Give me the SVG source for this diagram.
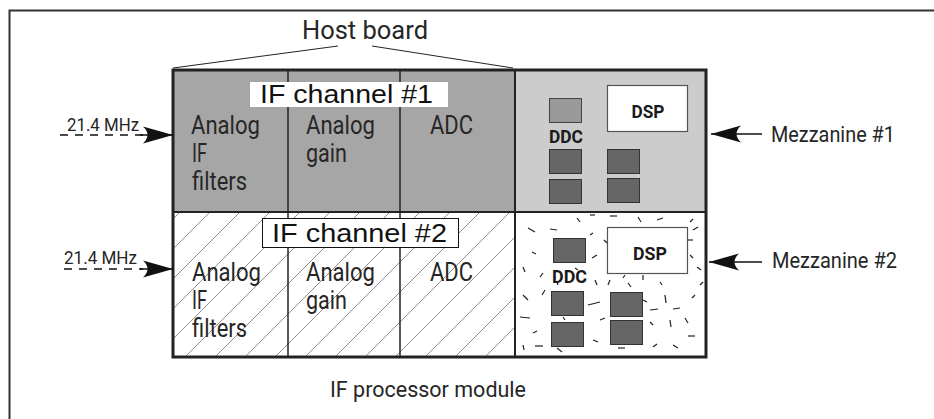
<svg xmlns="http://www.w3.org/2000/svg" width="934" height="419" viewBox="0 0 934 419">
  <defs>
    <style>
      .lbl { font-family: Roboto, "Liberation Sans", sans-serif; fill: #262626; }
      .cell { font-size: 25px; }
      .freq { font-size: 18px; }
      .side { font-size: 22px; }
      .chan { font-family: "Liberation Sans", Arial, sans-serif; font-size: 25px; fill: #111; }
      .bold { font-family: Roboto, "Liberation Sans", sans-serif; font-weight: bold; fill: #1a1a1a; }
      .div { stroke: #222; stroke-width: 1.5; fill: none; }
      .chip { fill: #666; stroke: #333; stroke-width: 1; }
      .chip-lt { fill: #999; stroke: #444; stroke-width: 1; }
      .dsp { fill: #fff; stroke: #555; stroke-width: 1.2; }
      .wire { stroke: #111; stroke-width: 1.3; fill: none; }
      .dash { stroke: #111; stroke-width: 1.3; fill: none; stroke-dasharray: 8 7; }
      .speck line { stroke: #222; stroke-width: 1.2; }
    </style>
    <pattern id="hatch" patternUnits="userSpaceOnUse" width="30" height="30" x="2" y="0">
      <path d="M-1,31 L31,-1 M-1,1 L1,-1 M29,31 L31,29" stroke="#968b8b" stroke-width="1" fill="none"/>
    </pattern>
    <marker id="stealth" markerUnits="userSpaceOnUse" markerWidth="32" markerHeight="20" viewBox="0 -10 32 20" refX="30" refY="0" orient="auto">
      <path d="M0,-8.5 L30,0 L0,8.5 Q9,0 0,-8.5 Z" fill="#111"/>
    </marker>
  </defs>

  <rect width="934" height="419" fill="#fff"/>

  <!-- frame around the module -->
  <path d="M9.5,419 V10.5 H934" fill="none" stroke="#333" stroke-width="2"/>

  <!-- host board bracket -->
  <g id="host-board">
    <text class="lbl" x="302" y="39" font-size="25" textLength="126" lengthAdjust="spacingAndGlyphs">Host board</text>
    <path d="M173,68 L338,46 M372,46 L513,68" stroke="#222" stroke-width="1" fill="none"/>
  </g>

  <!-- IF channel 1 -->
  <g id="if-channel-1">
    <rect x="173" y="70" width="342" height="142" fill="#a6a6a6"/>
    <line class="div" x1="288" y1="70" x2="288" y2="212"/>
    <line class="div" x1="400" y1="70" x2="400" y2="212"/>
    <rect x="250" y="82" width="198" height="25" fill="#fff"/>
    <text class="chan" x="260" y="103" textLength="173" lengthAdjust="spacingAndGlyphs">IF channel #1</text>
    <text class="lbl cell" x="191" y="134" textLength="69" lengthAdjust="spacingAndGlyphs">Analog</text>
    <text class="lbl cell" x="192" y="162" textLength="15" lengthAdjust="spacingAndGlyphs">IF</text>
    <text class="lbl cell" x="192" y="190" textLength="55" lengthAdjust="spacingAndGlyphs">filters</text>
    <text class="lbl cell" x="306" y="134" textLength="69" lengthAdjust="spacingAndGlyphs">Analog</text>
    <text class="lbl cell" x="306" y="162" textLength="41" lengthAdjust="spacingAndGlyphs">gain</text>
    <text class="lbl cell" x="430" y="134" textLength="43" lengthAdjust="spacingAndGlyphs">ADC</text>
  </g>

  <!-- IF channel 2 -->
  <g id="if-channel-2">
    <rect x="173" y="212" width="342" height="145" fill="#fff"/>
    <rect x="173" y="212" width="342" height="145" fill="url(#hatch)"/>
    <line class="div" x1="288" y1="212" x2="288" y2="357"/>
    <line class="div" x1="400" y1="212" x2="400" y2="357"/>
    <rect x="262.5" y="218.5" width="196" height="29" fill="#fff" stroke="#111" stroke-width="1"/>
    <text class="chan" x="272" y="242" textLength="175" lengthAdjust="spacingAndGlyphs">IF channel #2</text>
    <text class="lbl cell" x="192" y="281" textLength="69" lengthAdjust="spacingAndGlyphs">Analog</text>
    <text class="lbl cell" x="192" y="309" textLength="15" lengthAdjust="spacingAndGlyphs">IF</text>
    <text class="lbl cell" x="192" y="337" textLength="55" lengthAdjust="spacingAndGlyphs">filters</text>
    <text class="lbl cell" x="306" y="281" textLength="69" lengthAdjust="spacingAndGlyphs">Analog</text>
    <text class="lbl cell" x="306" y="309" textLength="41" lengthAdjust="spacingAndGlyphs">gain</text>
    <text class="lbl cell" x="430" y="281" textLength="43" lengthAdjust="spacingAndGlyphs">ADC</text>
  </g>

  <!-- Mezzanine 1 -->
  <g id="mezzanine-1">
    <rect x="515" y="70" width="191" height="142" fill="#ccc"/>
    <rect class="chip-lt" x="549.5" y="98.5" width="32" height="24"/>
    <rect class="dsp" x="607.5" y="85.5" width="80" height="46"/>
    <text class="bold" x="648" y="118" font-size="18" text-anchor="middle" textLength="33" lengthAdjust="spacingAndGlyphs">DSP</text>
    <text class="bold" x="549" y="143" font-size="19" textLength="34" lengthAdjust="spacingAndGlyphs">DDC</text>
    <rect class="chip" x="549.5" y="149.5" width="32" height="24"/>
    <rect class="chip" x="549.5" y="179.5" width="32" height="24"/>
    <rect class="chip" x="607.5" y="149.5" width="32" height="24"/>
    <rect class="chip" x="607.5" y="178.5" width="32" height="24"/>
  </g>

  <!-- Mezzanine 2 -->
  <g id="mezzanine-2">
    <rect x="515" y="212" width="191" height="145" fill="#fff"/>
    <g class="speck">
      <line x1="528" y1="228" x2="535" y2="232"/>
      <line x1="550" y1="229" x2="557" y2="230"/>
      <line x1="577" y1="218" x2="580" y2="222"/>
      <line x1="590" y1="215" x2="595" y2="215"/>
      <line x1="610" y1="216" x2="617" y2="216"/>
      <line x1="638" y1="217" x2="641" y2="222"/>
      <line x1="657" y1="220" x2="663" y2="218"/>
      <line x1="690" y1="222" x2="693" y2="219"/>
      <line x1="693" y1="230" x2="698" y2="227"/>
      <line x1="532" y1="252" x2="536" y2="254"/>
      <line x1="590" y1="235" x2="593" y2="233"/>
      <line x1="592" y1="258" x2="597" y2="255"/>
      <line x1="604" y1="240" x2="607" y2="243"/>
      <line x1="688" y1="240" x2="693" y2="240"/>
      <line x1="690" y1="255" x2="693" y2="258"/>
      <line x1="697" y1="267" x2="701" y2="270"/>
      <line x1="523" y1="267" x2="525" y2="272"/>
      <line x1="540" y1="277" x2="543" y2="273"/>
      <line x1="575" y1="268" x2="578" y2="270"/>
      <line x1="595" y1="280" x2="597" y2="285"/>
      <line x1="610" y1="280" x2="608" y2="285"/>
      <line x1="625" y1="275" x2="623" y2="278"/>
      <line x1="628" y1="283" x2="631" y2="287"/>
      <line x1="643" y1="275" x2="643" y2="280"/>
      <line x1="660" y1="282" x2="662" y2="285"/>
      <line x1="542" y1="295" x2="545" y2="290"/>
      <line x1="557" y1="282" x2="558" y2="285"/>
      <line x1="523" y1="295" x2="528" y2="300"/>
      <line x1="588" y1="305" x2="600" y2="302"/>
      <line x1="643" y1="300" x2="647" y2="302"/>
      <line x1="650" y1="310" x2="658" y2="309"/>
      <line x1="665" y1="295" x2="666" y2="303"/>
      <line x1="673" y1="309" x2="680" y2="308"/>
      <line x1="692" y1="298" x2="695" y2="295"/>
      <line x1="700" y1="285" x2="703" y2="282"/>
      <line x1="520" y1="317" x2="530" y2="318"/>
      <line x1="563" y1="317" x2="565" y2="320"/>
      <line x1="600" y1="320" x2="605" y2="318"/>
      <line x1="650" y1="322" x2="653" y2="325"/>
      <line x1="670" y1="320" x2="671" y2="327"/>
      <line x1="685" y1="318" x2="688" y2="323"/>
      <line x1="533" y1="333" x2="537" y2="331"/>
      <line x1="523" y1="345" x2="524" y2="350"/>
      <line x1="535" y1="346" x2="543" y2="346"/>
      <line x1="557" y1="348" x2="562" y2="352"/>
      <line x1="593" y1="340" x2="598" y2="342"/>
      <line x1="618" y1="348" x2="625" y2="348"/>
      <line x1="653" y1="347" x2="657" y2="344"/>
      <line x1="673" y1="345" x2="678" y2="348"/>
      <line x1="688" y1="336" x2="695" y2="336"/>
    </g>
    <rect class="chip" x="553.5" y="238.5" width="32" height="24"/>
    <rect class="dsp" x="607.5" y="227.5" width="80" height="46"/>
    <text class="bold" x="650" y="260" font-size="19" text-anchor="middle" textLength="34" lengthAdjust="spacingAndGlyphs">DSP</text>
    <text class="bold" x="552" y="283" font-size="19" textLength="35" lengthAdjust="spacingAndGlyphs">DDC</text>
    <rect class="chip" x="551.5" y="291.5" width="32" height="24"/>
    <rect class="chip" x="551.5" y="322.5" width="32" height="24"/>
    <rect class="chip" x="610.5" y="292.5" width="32" height="24"/>
    <rect class="chip" x="610.5" y="320.5" width="32" height="24"/>
  </g>

  <!-- module outline and partitions -->
  <g id="module-outline">
    <line x1="515" y1="70" x2="515" y2="357" stroke="#222" stroke-width="2"/>
    <line x1="173" y1="212" x2="706" y2="212" stroke="#222" stroke-width="2"/>
    <rect x="173" y="70" width="533" height="287" fill="none" stroke="#222" stroke-width="3"/>
    <text class="lbl" x="330" y="397" font-size="22" textLength="196" lengthAdjust="spacingAndGlyphs">IF processor module</text>
  </g>

  <!-- input and mezzanine labels -->
  <g id="input-1">
    <text class="lbl freq" x="67" y="131" textLength="72" lengthAdjust="spacingAndGlyphs">21.4 MHz</text>
  </g>
  <g id="input-2">
    <text class="lbl freq" x="64" y="264" textLength="73" lengthAdjust="spacingAndGlyphs">21.4 MHz</text>
  </g>
  <g id="mezzanine-1-label">
    <text class="lbl side" x="771" y="142" textLength="124" lengthAdjust="spacingAndGlyphs">Mezzanine #1</text>
  </g>
  <g id="mezzanine-2-label">
    <text class="lbl side" x="772" y="268" textLength="125" lengthAdjust="spacingAndGlyphs">Mezzanine #2</text>
  </g>

  <!-- connectors -->
  <g id="connectors">
    <path class="dash" d="M60,135 H143"/>
    <path class="wire" d="M140,135 H173" marker-end="url(#stealth)"/>
    <path class="dash" d="M64,269 H143"/>
    <path class="wire" d="M140,269 H173" marker-end="url(#stealth)"/>
    <path class="wire" d="M762,134 H711" marker-end="url(#stealth)"/>
    <path class="wire" d="M762,262 H709" marker-end="url(#stealth)"/>
  </g>
</svg>
